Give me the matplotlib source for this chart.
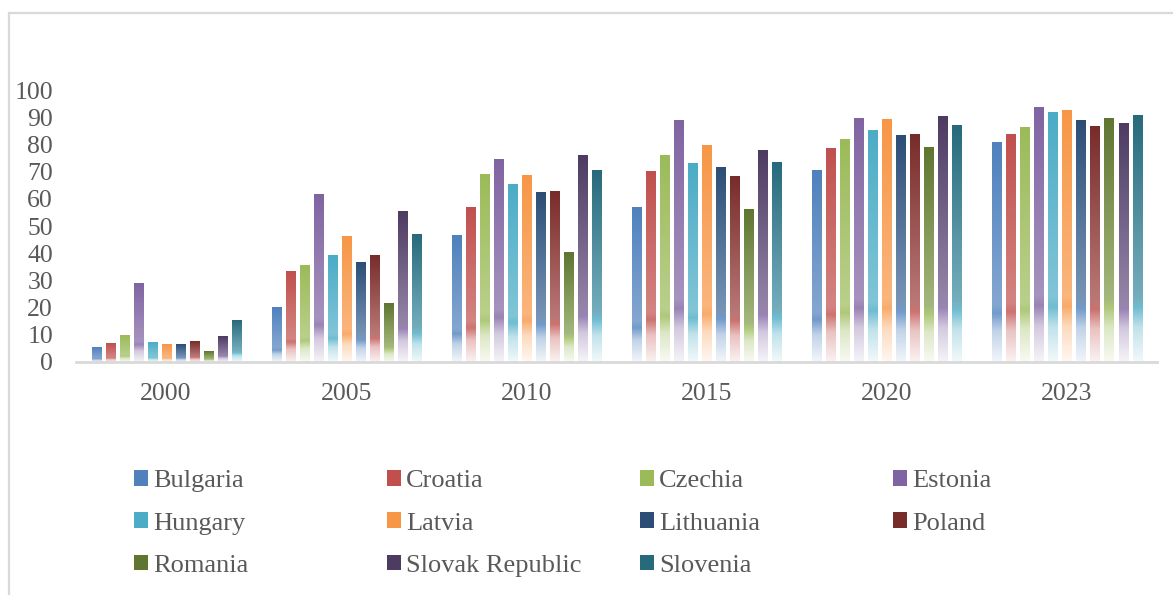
import numpy as np
import matplotlib
matplotlib.use("Agg")
import matplotlib.pyplot as plt
from matplotlib.colors import LinearSegmentedColormap, to_rgb
from matplotlib.patches import Patch
from matplotlib.lines import Line2D

# dados
anos = ['2000', '2005', '2010', '2015', '2020', '2023']
paises = ['Bulgaria', 'Croatia', 'Czechia', 'Estonia', 'Hungary', 'Latvia',
          'Lithuania', 'Poland', 'Romania', 'Slovak Republic', 'Slovenia']

bulgaria = [5.3, 20.0, 46.4, 56.7, 70.3, 80.6]
croatia = [6.7, 33.2, 56.7, 70.0, 78.4, 83.6]
czechia = [9.7, 35.4, 68.9, 75.9, 81.7, 86.2]
estonia = [28.8, 61.5, 74.4, 88.7, 89.5, 93.5]
hungary = [7.1, 39.1, 65.2, 72.9, 85.0, 91.7]
latvia = [6.4, 46.1, 68.5, 79.5, 89.1, 92.4]
lithuania = [6.4, 36.5, 62.3, 71.4, 83.2, 88.7]
poland = [7.5, 39.1, 62.6, 68.1, 83.6, 86.5]
romania = [3.8, 21.4, 40.2, 56.0, 78.8, 89.5]
slovak = [9.3, 55.3, 75.9, 77.7, 90.2, 87.6]
slovenia = [15.2, 46.8, 70.3, 73.3, 86.9, 90.6]

valores = [bulgaria, croatia, czechia, estonia, hungary, latvia,
           lithuania, poland, romania, slovak, slovenia]

# cor do topo e cor da parte de baixo (gradiente estilo Excel)
cores_topo = ['#4F81BD', '#C0504D', '#9BBB59', '#8064A2', '#4BACC6', '#F79646',
              '#2C4D75', '#772C2A', '#5F7530', '#4D3B62', '#276A7C']
cores_base = ['#4F81BD', '#C0504D', '#9BBB59', '#8064A2', '#4BACC6', '#F79646',
              '#4F81BD', '#C0504D', '#9BBB59', '#8064A2', '#4BACC6']

CINZA = '#595959'
FONTE = 'Liberation Serif'


def mistura(c1, c2, t):
    a = np.array(to_rgb(c1))
    b = np.array(to_rgb(c2))
    return tuple(a * (1 - t) + b * t)


def cmap_gradiente(topo, base):
    meio = mistura(mistura(topo, base, 0.5), 'white', 0.3)
    stops = [
        (0.0, to_rgb(topo)),
        (0.74, meio),
        (0.78, mistura(base, 'white', 0.2)),
        (0.86, mistura(base, 'white', 0.65)),
        (1.0, mistura(base, 'white', 0.93)),
    ]
    return LinearSegmentedColormap.from_list('g', stops)


fig = plt.figure(figsize=(11.73, 5.95), dpi=100)
ax = fig.add_axes([0.0648, 0.3916, 0.9216, 0.4571])

x = np.arange(len(anos))
passo = 14 / 180
largura = 9 / 180
grad = np.linspace(0, 1, 256).reshape(-1, 1)

for i, (nome, vals) in enumerate(zip(paises, valores)):
    desloc = (i - 5) * passo
    barras = ax.bar(x + desloc, vals, largura, facecolor='none', linewidth=0)
    cmap = cmap_gradiente(cores_topo[i], cores_base[i])
    for r in barras:
        x0 = r.get_x()
        ax.imshow(grad, extent=[x0, x0 + r.get_width(), 0, r.get_height()],
                  origin='upper', cmap=cmap, aspect='auto',
                  interpolation='bilinear', zorder=2)

ax.set_xlim(-0.5, len(anos) - 0.5)
ax.set_ylim(0, 100)
ax.set_yticks(range(0, 101, 10))
ax.set_xticks(x)
ax.set_xticklabels(anos)

for s in ['top', 'right', 'left']:
    ax.spines[s].set_visible(False)
ax.spines['bottom'].set_color('#D9D9D9')
ax.spines['bottom'].set_linewidth(2)
ax.spines['bottom'].set_zorder(3)
ax.tick_params(axis='both', length=0, colors=CINZA, labelsize=18.5)
ax.tick_params(axis='y', pad=16.5)
ax.tick_params(axis='x', pad=15)
for lab in ax.get_xticklabels() + ax.get_yticklabels():
    lab.set_fontfamily(FONTE)

# legenda em 4 colunas de largura igual (como no Excel)
colunas_x = [134, 387, 640, 893]
for c in range(4):
    idx = list(range(c, len(paises), 4))
    handles = [Patch(facecolor=cores_topo[k], edgecolor='none') for k in idx]
    fig.legend(handles, [paises[k] for k in idx],
               loc='upper left', bbox_to_anchor=(colunas_x[c] / 1173, 1 - 470 / 595),
               frameon=False, prop={'family': FONTE, 'size': 19},
               labelcolor=CINZA, handlelength=0.53, handleheight=0.53,
               handletextpad=0.19, labelspacing=0.77, borderaxespad=0,
               borderpad=0)

# borda do gráfico
fig.add_artist(Line2D([9 / 1173, 1], [1 - 12.5 / 595, 1 - 12.5 / 595],
                      transform=fig.transFigure, color='#D9D9D9', linewidth=1.6))
fig.add_artist(Line2D([9 / 1173, 9 / 1173], [0, 1 - 12.5 / 595],
                      transform=fig.transFigure, color='#D9D9D9', linewidth=1.6))

fig.savefig('out.png', dpi=100)
